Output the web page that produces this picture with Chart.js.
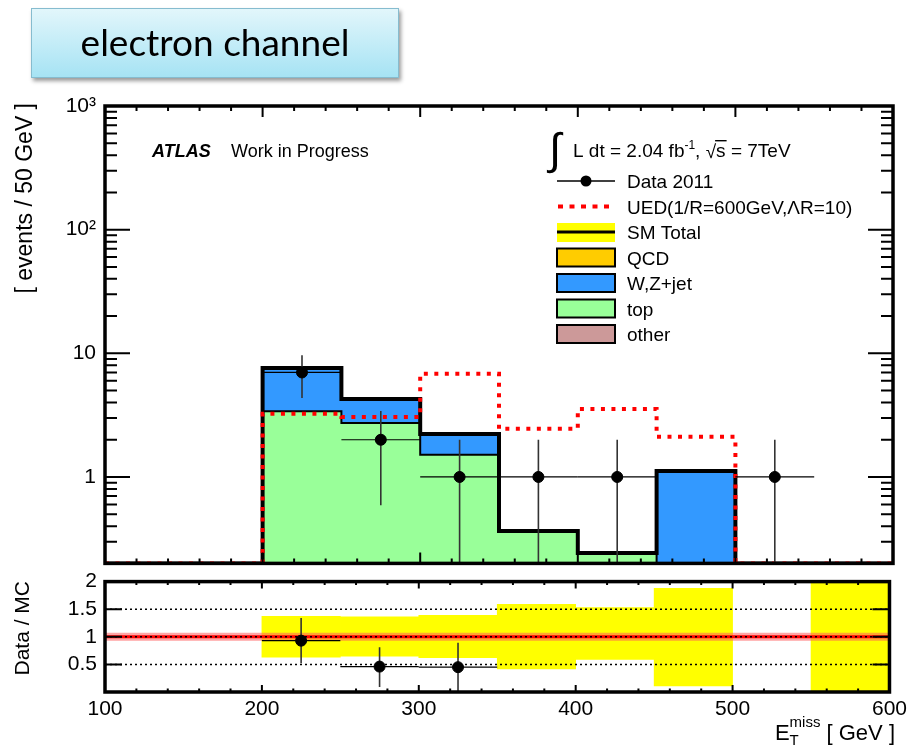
<!DOCTYPE html>
<html>
<head>
<meta charset="utf-8">
<title>electron channel</title>
<script src="https://cdn.jsdelivr.net/npm/chart.js@4.4.1/dist/chart.umd.min.js"></script>
<style>
  html, body { margin: 0; padding: 0; background: #fff; }
  body { width: 912px; height: 745px; position: relative; overflow: hidden; }
  #title { position: absolute; left: 31px; top: 8px; width: 368px; height: 70px; box-sizing: border-box;
    border: 1px solid #86bccf; background: linear-gradient(#e2f6fb, #a6e3f4);
    box-shadow: 2px 3px 4px rgba(0,0,0,0.4); font-family: Lato, "Open Sans", sans-serif;
    font-size: 37px; line-height: 66px; text-align: center; color: #000; z-index: 2; }
  canvas { position: absolute; left: 0; }
  #mainChart { top: 0; }
  #ratioChart { top: 561px; }
</style>
</head>
<body>
<div id="title">electron channel</div>
<canvas id="mainChart" width="912" height="585"></canvas>
<canvas id="ratioChart" width="912" height="184"></canvas>
<script>
// E_T^miss bins, 50 GeV wide
const binEdges   = [100, 150, 200, 250, 300, 350, 400, 450, 500, 550, 600];
const topBkg     = [0, 0, 3.4, 2.73, 1.51, 0.365, 0.243, 0, 0, 0];
const wzJet      = [0, 0, 4.2, 1.55, 0.72, 0, 0, 1.12, 0, 0];
const uedSignal  = [0, 0, 3.24, 3.06, 6.82, 2.45, 3.55, 2.11, 0, 0];
const dataCounts = [0, 0, 7, 2, 1, 1, 1, 0, 1, 0];
const dataErr    = [0, 0, 2.65, 1.41, 1, 1, 1, 0, 1, 0];

// ratio panel (Data / MC)
const ratioVals = [null, null, 0.93, 0.46, 0.45, null, null, null, null, null];
const ratioLow  = [null, null, 0.52, 0.09, 0, null, null, null, null, null];
const ratioHigh = [null, null, 1.34, 0.81, 0.89, null, null, null, null, null];
const bandLow   = [null, null, 0.63, 0.65, 0.62, 0.42, 0.59, 0.11, null, 0];
const bandHigh  = [null, null, 1.37, 1.36, 1.39, 1.59, 1.53, 1.88, null, 2.2];

const yTickValues = [1, 10, 100, 1000];
const yTickLabels = ['1', '10', '10²', '10³'];
const xTickValues = [100, 200, 300, 400, 500, 600];
const ratioTickValues = [0.5, 1, 1.5, 2];
const ratioTickLabels = ['0.5', '1', '1.5', '2'];
const refLines = [0.5, 1, 1.5];

const Y_MIN = 0.2, Y_MAX = 1000;
const FONT = '"Liberation Sans", Arial, Helvetica, sans-serif';
Chart.defaults.font.family = FONT;
Chart.defaults.color = '#000';

const centers = binEdges.slice(0, -1).map((e, i) => (e + binEdges[i + 1]) / 2);
const smTotal = topBkg.map((v, i) => v + wzJet[i]);

// histogram as a stepped line through the bin edges
function stepPoints(vals) {
  const pts = vals.map((v, i) => ({x: binEdges[i], y: Math.max(v, Y_MIN)}));
  pts.push({x: binEdges[binEdges.length - 1], y: Math.max(vals[vals.length - 1], Y_MIN)});
  return pts;
}

function seg(ctx, x1, y1, x2, y2) { ctx.moveTo(x1, y1); ctx.lineTo(x2, y2); }

// ROOT style ticks pointing inwards + frame
const frameTicks = {
  id: 'frameTicks',
  afterDraw(chart, args, o) {
    const {ctx, chartArea: a, scales: {x, y}} = chart;
    ctx.save();
    ctx.strokeStyle = '#000';
    ctx.lineWidth = 2;
    ctx.beginPath();
    for (let v = 100; v <= 600; v += 20) {
      const px = x.getPixelForValue(v);
      const len = v % 100 === 0 ? o.xMajor : o.xMinor;
      seg(ctx, px, a.bottom, px, a.bottom - len);
      seg(ctx, px, a.top, px, a.top + len);
    }
    const yt = [];
    if (o.logY) {
      for (let d = 0.1; d < 1000; d *= 10) {
        for (let m = 1; m <= 9; m++) {
          const v = m * d;
          if (v >= Y_MIN * 0.999 && v <= Y_MAX * 1.001) yt.push([v, m === 1 ? o.yMajor : o.yMinor]);
        }
      }
    } else {
      ratioTickValues.forEach(v => yt.push([v, o.yMajor]));
    }
    yt.forEach(([v, len]) => {
      const py = y.getPixelForValue(v);
      seg(ctx, a.left, py, a.left + len, py);
      seg(ctx, a.right, py, a.right - len, py);
    });
    ctx.stroke();
    ctx.lineWidth = o.frame;
    ctx.strokeRect(a.left, a.top, a.width, a.height);
    ctx.restore();
  }
};

// error bars, drawn just before the marker dataset
const errorBars = {
  id: 'errorBars',
  beforeDatasetDraw(chart, args) {
    const ds = chart.data.datasets[args.index];
    if (!ds.errLow) return;
    const {ctx, chartArea: a, scales: {x, y}} = chart;
    ctx.save();
    ctx.beginPath();
    ctx.rect(a.left, a.top, a.width, a.height);
    ctx.clip();
    ds.data.forEach((p, i) => {
      const py = y.getPixelForValue(p.y);
      const px = x.getPixelForValue(p.x);
      ctx.beginPath();
      ctx.strokeStyle = '#000';
      ctx.lineWidth = 1.2;
      seg(ctx, x.getPixelForValue(p.x - 25), py, x.getPixelForValue(p.x + 25), py);
      ctx.stroke();
      ctx.beginPath();
      ctx.strokeStyle = '#333';
      ctx.lineWidth = 1.6;
      const lo = ds.errLow[i] > 0 ? y.getPixelForValue(ds.errLow[i]) : a.bottom + 5;
      seg(ctx, px, lo, px, y.getPixelForValue(ds.errHigh[i]));
      ctx.stroke();
    });
    ctx.restore();
  }
};

const legendRows = [
  {label: 'Data 2011', kind: 'data'},
  {label: 'UED(1/R=600GeV,ΛR=10)', kind: 'ued'},
  {label: 'SM Total', kind: 'sm'},
  {label: 'QCD', kind: 'box', color: '#ffcc00'},
  {label: 'W,Z+jet', kind: 'box', color: '#3399ff'},
  {label: 'top', kind: 'box', color: '#99ff99'},
  {label: 'other', kind: 'box', color: '#cc9999'}
];

const mainTexts = {
  id: 'mainTexts',
  afterDraw(chart) {
    const ctx = chart.ctx;
    ctx.save();
    ctx.fillStyle = '#000';
    ctx.textBaseline = 'alphabetic';
    // ATLAS label
    ctx.font = 'italic bold 18px ' + FONT;
    ctx.fillText('ATLAS', 152, 157);
    ctx.font = '18px ' + FONT;
    ctx.fillText('Work in Progress', 231, 157);
    // luminosity line
    ctx.font = '44px ' + FONT;
    ctx.fillText('∫', 549, 164);
    ctx.font = '19px ' + FONT;
    let cx = 573;
    ctx.fillText('L dt = 2.04 fb', cx, 157); cx += ctx.measureText('L dt = 2.04 fb').width;
    ctx.font = '12px ' + FONT;
    ctx.fillText('-1', cx, 149); cx += ctx.measureText('-1').width;
    ctx.font = '19px ' + FONT;
    ctx.fillText(',', cx, 157); cx += ctx.measureText(', ').width;
    ctx.fillText('√', cx, 158); cx += ctx.measureText('√').width;
    const sw = ctx.measureText('s').width;
    ctx.fillText('s', cx, 157);
    ctx.fillRect(cx - 1, 140, sw + 2, 1.4);
    cx += sw;
    ctx.fillText(' = 7TeV', cx, 157);
    // legend
    legendRows.forEach((r, i) => {
      const yc = 181 + i * 25.5;
      const x0 = 557, x1 = 615;
      if (r.kind === 'data') {
        ctx.beginPath(); ctx.strokeStyle = '#000'; ctx.lineWidth = 1.4;
        seg(ctx, x0, yc, x1, yc); ctx.stroke();
        ctx.beginPath(); ctx.arc((x0 + x1) / 2, yc, 5.5, 0, Math.PI * 2); ctx.fill();
      } else if (r.kind === 'ued') {
        ctx.beginPath(); ctx.strokeStyle = '#ff0000'; ctx.lineWidth = 4; ctx.setLineDash([5, 6.5]);
        seg(ctx, x0 + 1, yc, x1, yc); ctx.stroke(); ctx.setLineDash([]);
      } else if (r.kind === 'sm') {
        ctx.fillStyle = '#ffff00'; ctx.fillRect(x0, yc - 9, x1 - x0, 19);
        ctx.fillStyle = '#000'; ctx.fillRect(x0, yc - 1.5, x1 - x0, 3);
      } else {
        ctx.fillStyle = r.color; ctx.fillRect(x0, yc - 9, x1 - x0, 18);
        ctx.strokeStyle = '#000'; ctx.lineWidth = 2; ctx.strokeRect(x0, yc - 9, x1 - x0, 18);
        ctx.fillStyle = '#000';
      }
      ctx.font = '19px ' + FONT;
      ctx.fillText(r.label, 627, yc + 7);
    });
    // y title
    ctx.translate(32, 103);
    ctx.rotate(-Math.PI / 2);
    ctx.textAlign = 'right';
    ctx.font = '23px ' + FONT;
    ctx.fillText('[ events / 50 GeV ]', 0, 0);
    ctx.restore();
  }
};

const ratioTexts = {
  id: 'ratioTexts',
  afterDraw(chart) {
    const ctx = chart.ctx;
    ctx.save();
    ctx.fillStyle = '#000';
    ctx.textBaseline = 'alphabetic';
    // x title E_T^miss [ GeV ]
    ctx.font = '22px ' + FONT;
    const wE = ctx.measureText('E').width, wRest = ctx.measureText(' [ GeV ]').width;
    ctx.font = '15px ' + FONT;
    const wMiss = ctx.measureText('miss').width;
    let cx = 895 - (wE + wMiss + wRest);
    ctx.font = '22px ' + FONT;
    ctx.fillText('E', cx, 179); cx += wE;
    ctx.font = '15px ' + FONT;
    ctx.fillText('T', cx, 184);
    ctx.fillText('miss', cx, 166); cx += wMiss;
    ctx.font = '22px ' + FONT;
    ctx.fillText(' [ GeV ]', cx, 179);
    // y title
    ctx.translate(29, 20);
    ctx.rotate(-Math.PI / 2);
    ctx.textAlign = 'right';
    ctx.font = '21px ' + FONT;
    ctx.fillText('Data / MC', 0, 0);
    ctx.restore();
  }
};

// dotted reference lines in the ratio panel
const refLinePlugin = {
  id: 'refLines',
  afterDatasetsDraw(chart) {
    const {ctx, chartArea: a, scales: {y}} = chart;
    ctx.save();
    ctx.strokeStyle = '#000';
    ctx.lineWidth = 1.5;
    ctx.setLineDash([2, 3]);
    refLines.forEach(v => {
      const py = y.getPixelForValue(v);
      ctx.beginPath(); seg(ctx, a.left, py, a.right, py); ctx.stroke();
    });
    ctx.restore();
  }
};

const dataPoints = [], dLow = [], dHigh = [];
dataCounts.forEach((n, i) => {
  if (n > 0) {
    dataPoints.push({x: centers[i], y: n});
    dLow.push(n - dataErr[i]);
    dHigh.push(n + dataErr[i]);
  }
});

new Chart(document.getElementById('mainChart'), {
  type: 'line',
  data: {
    datasets: [
      {label: 'Data 2011', type: 'scatter', data: dataPoints, errLow: dLow, errHigh: dHigh,
       backgroundColor: '#000', borderColor: '#000', pointRadius: 5.5, showLine: false, order: 0},
      {label: 'UED', data: stepPoints(uedSignal), stepped: 'before', borderColor: '#ff0000',
       borderWidth: 4, borderDash: [4, 6.5], pointRadius: 0, fill: false, order: 1},
      {label: 'SM Total', data: stepPoints(smTotal), stepped: 'before', borderColor: '#000',
       borderWidth: 4, pointRadius: 0, fill: false, order: 2},
      {label: 'top', data: stepPoints(topBkg), stepped: 'before', borderColor: '#000',
       borderWidth: 2, backgroundColor: '#99ff99', pointRadius: 0, fill: 'start', order: 3},
      {label: 'W,Z+jet', data: stepPoints(smTotal), stepped: 'before', borderColor: '#222',
       borderWidth: 1, backgroundColor: '#3399ff', pointRadius: 0, fill: 'start', order: 4}
    ]
  },
  options: {
    responsive: false,
    animation: false,
    layout: {padding: {left: 0, right: 19, top: 106, bottom: 0}},
    plugins: {
      legend: {display: false},
      tooltip: {enabled: false},
      frameTicks: {xMajor: 11, xMinor: 5, yMajor: 25, yMinor: 12, frame: 3.5, logY: true}
    },
    scales: {
      x: {type: 'linear', min: 100, max: 600, display: false},
      y: {
        type: 'logarithmic', min: Y_MIN, max: Y_MAX,
        grid: {display: false, drawTicks: false}, border: {display: false},
        afterFit: s => { s.width = 105; },
        afterBuildTicks: s => { s.ticks = yTickValues.map(v => ({value: v})); },
        ticks: {
          padding: 9, font: {size: 21},
          callback: v => { const k = yTickValues.indexOf(v); return k >= 0 ? yTickLabels[k] : ''; }
        }
      }
    }
  },
  plugins: [errorBars, frameTicks, mainTexts]
});

const bandBars = [], rPoints = [], rLow = [], rHigh = [];
centers.forEach((c, i) => {
  if (bandLow[i] !== null) bandBars.push({x: c, y: [bandLow[i], bandHigh[i]]});
  if (ratioVals[i] !== null) {
    rPoints.push({x: c, y: ratioVals[i]});
    rLow.push(ratioLow[i]);
    rHigh.push(ratioHigh[i]);
  }
});

new Chart(document.getElementById('ratioChart'), {
  type: 'line',
  data: {
    datasets: [
      {label: 'Data / MC', type: 'scatter', data: rPoints, errLow: rLow, errHigh: rHigh,
       backgroundColor: '#000', borderColor: '#000', pointRadius: 5.5, showLine: false, order: 0},
      {label: 'unity', data: [{x: 100, y: 1}, {x: 600, y: 1}], borderColor: '#ff0000',
       borderWidth: 3, pointRadius: 0, order: 1},
      {label: 'unity halo', data: [{x: 100, y: 1}, {x: 600, y: 1}], borderColor: 'rgba(255,90,90,0.55)',
       borderWidth: 8, pointRadius: 0, order: 2},
      {label: 'MC uncertainty', type: 'bar', data: bandBars, backgroundColor: '#ffff00',
       borderWidth: 0, barPercentage: 1, categoryPercentage: 1, order: 3}
    ]
  },
  options: {
    responsive: false,
    animation: false,
    layout: {padding: {left: 0, right: 19, top: 7, bottom: 0}},
    plugins: {
      legend: {display: false},
      tooltip: {enabled: false},
      frameTicks: {xMajor: 7, xMinor: 3.5, yMajor: 17, yMinor: 0, frame: 3.5, logY: false}
    },
    scales: {
      x: {
        type: 'linear', min: 100, max: 600, offset: false,
        grid: {display: false, drawTicks: false}, border: {display: false},
        afterFit: s => { s.height = 53; },
        afterBuildTicks: s => { s.ticks = xTickValues.map(v => ({value: v})); },
        ticks: {padding: 5, maxRotation: 0, autoSkip: false, font: {size: 21}, callback: v => String(v)}
      },
      y: {
        type: 'linear', min: 0, max: 2,
        grid: {display: false, drawTicks: false}, border: {display: false},
        afterFit: s => { s.width = 105; },
        afterBuildTicks: s => { s.ticks = ratioTickValues.map(v => ({value: v})); },
        ticks: {
          padding: 8, font: {size: 21},
          callback: v => { const k = ratioTickValues.indexOf(v); return k >= 0 ? ratioTickLabels[k] : ''; }
        }
      }
    }
  },
  plugins: [refLinePlugin, errorBars, frameTicks, ratioTexts]
});
</script>
</body>
</html>
